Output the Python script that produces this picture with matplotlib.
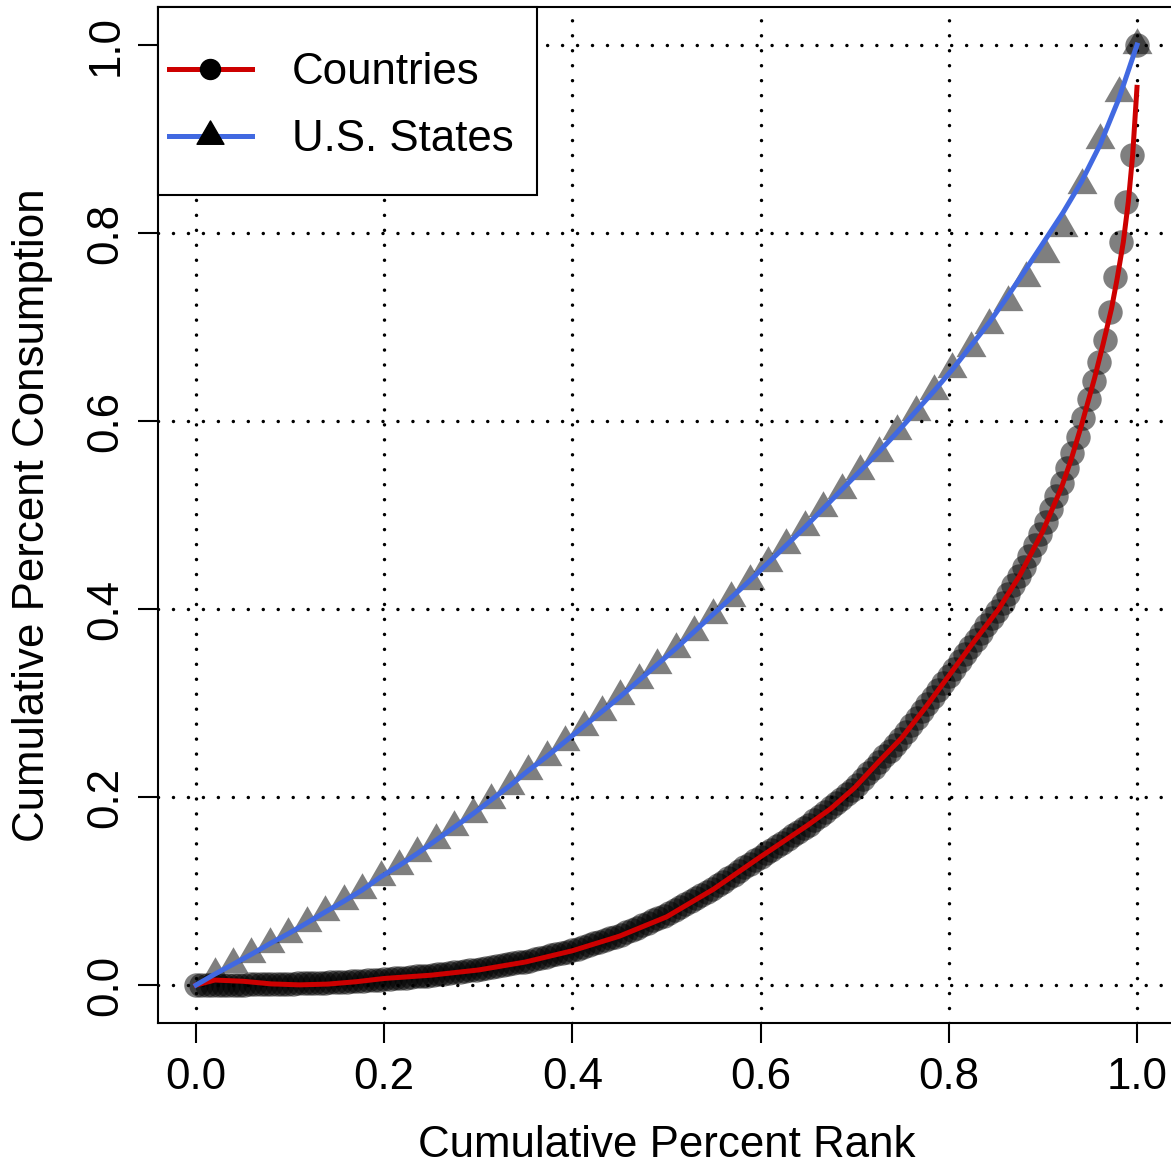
import numpy as np
import matplotlib.pyplot as plt
from matplotlib.path import Path
from matplotlib.lines import Line2D
from matplotlib.patches import Rectangle

plt.rcParams['font.family'] = ['Liberation Sans', 'DejaVu Sans']

# Lorenz curve points (cumulative share, sorted by rank)
country_share = [
    0.0000, 0.0001, 0.0001, 0.0002, 0.0002, 0.0003, 0.0003, 0.0004, 0.0005,
    0.0005, 0.0006, 0.0008, 0.0009, 0.0010, 0.0011, 0.0012, 0.0013, 0.0014,
    0.0016, 0.0018, 0.0019, 0.0021, 0.0023, 0.0024, 0.0026, 0.0028, 0.0030,
    0.0033, 0.0036, 0.0039, 0.0043, 0.0046, 0.0050, 0.0053, 0.0057,
    0.0060, 0.0065, 0.0070, 0.0075, 0.0080, 0.0086, 0.0091, 0.0096, 0.0101,
    0.0107, 0.0114, 0.0121, 0.0127, 0.0134, 0.0141, 0.0148, 0.0155, 0.0162,
    0.0170, 0.0180, 0.0190, 0.0200, 0.0210, 0.0220, 0.0230, 0.0240,
    0.0247, 0.0260, 0.0274, 0.0288, 0.0301, 0.0315, 0.0329, 0.0343, 0.0356,
    0.0370, 0.0388, 0.0407, 0.0425, 0.0443, 0.0461, 0.0480, 0.0498, 0.0516,
    0.0536, 0.0561, 0.0587, 0.0612, 0.0637, 0.0662, 0.0687, 0.0712, 0.0737,
    0.0766, 0.0798, 0.0830, 0.0862, 0.0894, 0.0926, 0.0958, 0.0990, 0.1022,
    0.1059, 0.1097, 0.1135, 0.1174, 0.1212, 0.1251, 0.1289, 0.1327,
    0.1365, 0.1403, 0.1440, 0.1478, 0.1516, 0.1554, 0.1591, 0.1629, 0.1667,
    0.1706, 0.1752, 0.1799, 0.1845, 0.1891, 0.1938, 0.1984, 0.2030, 0.2077,
    0.2131, 0.2191, 0.2252, 0.2312, 0.2372, 0.2433, 0.2493, 0.2554, 0.2614,
    0.2687, 0.2762, 0.2837, 0.2913, 0.2988, 0.3064, 0.3139, 0.3215,
    0.3290, 0.3367, 0.3443, 0.3520, 0.3596, 0.3673, 0.3749, 0.3826, 0.3903, 0.3979,
    0.4069, 0.4164, 0.4260, 0.4355,
    0.4450, 0.4567, 0.4684, 0.4801,
    0.4930, 0.5067, 0.5204, 0.5340,
    0.550, 0.566, 0.583, 0.603, 0.623, 0.643, 0.663, 0.686, 0.716, 0.7535,
    0.791, 0.833, 0.883, 1.000,
]

state_share = [
    0.0114, 0.022, 0.0327, 0.044, 0.0546, 0.066, 0.0777, 0.089, 0.101, 0.115,
    0.127, 0.140, 0.154, 0.168, 0.182, 0.197, 0.212, 0.228, 0.243, 0.259,
    0.275, 0.291, 0.307, 0.324, 0.341, 0.358, 0.376, 0.394, 0.412, 0.430,
    0.449, 0.468, 0.487, 0.507, 0.527, 0.547, 0.566, 0.589, 0.610, 0.632,
    0.655, 0.678, 0.702, 0.727, 0.752, 0.778, 0.805, 0.851, 0.899, 0.949,
    1.000,
]

# smoothed curves drawn over the points
country_fit_x = [0.0, 0.02, 0.05, 0.08, 0.11, 0.14, 0.17, 0.20, 0.25, 0.30,
                 0.35, 0.40, 0.45, 0.50, 0.55, 0.60, 0.65, 0.675, 0.70, 0.725,
                 0.75, 0.775, 0.80, 0.825, 0.853, 0.875, 0.90, 0.92, 0.93,
                 0.941, 0.955, 0.964, 0.973, 0.979, 0.9855, 0.9908, 0.9954, 1.0]
country_fit_y = [0.0, 0.0053, 0.0040, 0.0012, 0.0002, 0.0010, 0.0035, 0.0070, 0.0105, 0.0160,
                 0.0245, 0.0365, 0.0520, 0.0725, 0.1020, 0.1365, 0.1700, 0.1880, 0.2100, 0.2370,
                 0.2630, 0.2950, 0.3290, 0.3630, 0.4000, 0.4350, 0.4830, 0.5300, 0.5590,
                 0.5955, 0.6460, 0.6820, 0.7200, 0.7520, 0.7907, 0.8333, 0.8830, 0.9550]

state_fit = [
    0.0, 0.0114, 0.022, 0.0327, 0.044, 0.0546, 0.066, 0.0777, 0.089, 0.101,
    0.115, 0.127, 0.140, 0.154, 0.168, 0.182, 0.197, 0.212, 0.228, 0.243,
    0.259, 0.275, 0.291, 0.307, 0.324, 0.341, 0.358, 0.376, 0.394, 0.412,
    0.430, 0.449, 0.468, 0.487, 0.507, 0.527, 0.547, 0.567, 0.588, 0.610,
    0.632, 0.655, 0.680, 0.705, 0.733, 0.762, 0.792, 0.822, 0.855, 0.894,
    0.942, 1.000,
]

ticks = [0.0, 0.2, 0.4, 0.6, 0.8, 1.0]
tick_labels = ['0.0', '0.2', '0.4', '0.6', '0.8', '1.0']

# cumulative percent rank of each point
country_x = np.arange(len(country_share)) / (len(country_share) - 1)
state_x = np.arange(1, len(state_share) + 1) / len(state_share)
state_fit_x = np.arange(len(state_fit)) / (len(state_fit) - 1)

red = '#CD0000'
blue = '#4169E1'
fs = 31.6

# filled triangle centred on its centroid, like R's pch 17
tri = Path([(0, 1), (-0.866, -0.5), (0.866, -0.5), (0, 1)],
           [Path.MOVETO, Path.LINETO, Path.LINETO, Path.CLOSEPOLY])

fig = plt.figure(figsize=(11.71, 11.65), dpi=100)
ax = fig.add_axes([0.1353, 0.1222, 0.8678, 0.8714])

ax.plot(country_x, country_share, linestyle='none', marker='o', ms=17.6,
        mfc='black', mec='none', alpha=0.5, zorder=2)
ax.plot(state_x, state_share, linestyle='none', marker=tri, ms=24.9,
        mfc='black', mec='none', alpha=0.5, zorder=2)
ax.plot(country_fit_x, country_fit_y, color=red, lw=3.6, zorder=4)
ax.plot(state_fit_x, state_fit, color=blue, lw=3.6, zorder=4)

ax.set_xlim(-0.04, 1.04)
ax.set_ylim(-0.04, 1.04)
ax.set_xticks(ticks, tick_labels)
ax.set_yticks(ticks, tick_labels)
ax.set_axisbelow(False)
ax.grid(True, color='black', lw=2.5, linestyle=(0, (0.01, 4.3)),
        dash_capstyle='round')

for s in ax.spines.values():
    s.set_linewidth(1.5)
ax.tick_params(length=14.4, width=1.5, labelsize=fs, direction='out')
ax.tick_params(axis='x', pad=10.4)
ax.tick_params(axis='y', pad=8.6, labelrotation=90)
for lab in ax.get_yticklabels():
    lab.set_va('center')

ax.set_xlabel('Cumulative Percent Rank', fontsize=fs)
ax.xaxis.set_label_coords(0.5, -0.1324)
ax.xaxis.label.set_va('baseline')
ax.set_ylabel('Cumulative Percent Consumption', fontsize=fs)
ax.yaxis.set_label_coords(-0.1126, 0.5)
ax.yaxis.label.set_va('baseline')

# legend box in the top left corner
ax.add_patch(Rectangle((0, 0.8152), 0.3726, 0.1848, transform=ax.transAxes,
                       facecolor='white', edgecolor='black', lw=1.5,
                       zorder=4.5, clip_on=False))
handles = [
    Line2D([], [], color=red, lw=3.6, marker='o', ms=14.4, mfc='black', mec='black'),
    Line2D([], [], color=blue, lw=3.6, marker=tri, ms=22.4, mfc='black', mec='black'),
]
leg = ax.legend(handles, ['Countries', 'U.S. States'], loc='upper left',
                bbox_to_anchor=(0.0104, 0.9562), frameon=False, fontsize=fs,
                borderpad=0, borderaxespad=0, handlelength=1.89,
                handletextpad=0.91, labelspacing=0.6, numpoints=1)
leg.set_zorder(5)

fig.savefig('out.png', dpi=100)
